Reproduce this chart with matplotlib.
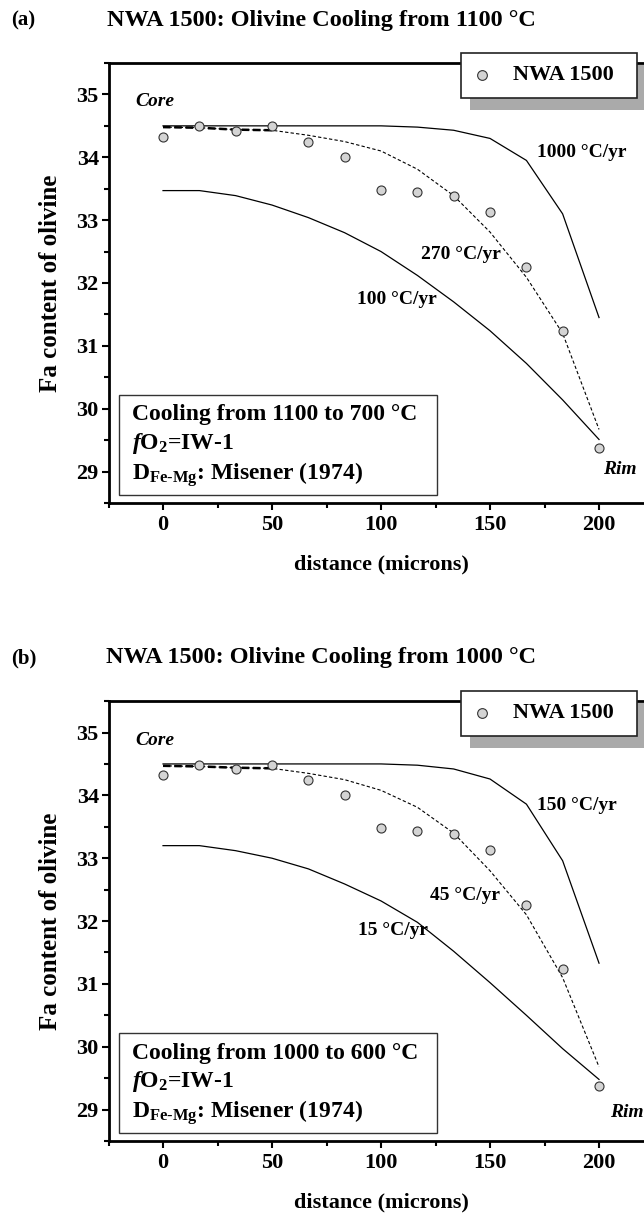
import matplotlib
matplotlib.use('Agg')
import matplotlib.pyplot as plt
from matplotlib.patches import Rectangle
from matplotlib.ticker import MultipleLocator

plt.rcParams['font.family'] = ['Liberation Serif', 'DejaVu Serif']
plt.rcParams['font.weight'] = 'bold'
plt.rcParams['axes.labelweight'] = 'bold'
plt.rcParams['mathtext.fontset'] = 'custom'
plt.rcParams['mathtext.rm'] = 'Liberation Serif:bold'
plt.rcParams['mathtext.it'] = 'Liberation Serif:italic:bold'
plt.rcParams['mathtext.bf'] = 'Liberation Serif:bold'

# measured profile (same in both panels)
distance = [0, 16.7, 33.3, 50, 66.7, 83.3, 100, 116.7, 133.3, 150, 166.7, 183.3, 200]
fa_measured = [34.32, 34.49, 34.42, 34.49, 34.24, 34.01, 33.48, 33.44, 33.39, 33.13, 32.25, 31.24, 29.37]

# (a) cooling from 1100 C
a_fast = [34.5, 34.5, 34.5, 34.5, 34.5, 34.5, 34.5, 34.48, 34.43, 34.30, 33.95, 33.10, 31.45]
a_mid = [34.48, 34.47, 34.44, 34.43, 34.35, 34.25, 34.10, 33.81, 33.39, 32.81, 32.09, 31.20, 29.67]
a_slow = [33.47, 33.47, 33.39, 33.24, 33.04, 32.80, 32.50, 32.12, 31.70, 31.24, 30.72, 30.14, 29.51]
a_rates = ['1000 °C/yr', '270 °C/yr', '100 °C/yr']

# (b) cooling from 1000 C
b_fast = [34.5, 34.5, 34.5, 34.5, 34.5, 34.5, 34.5, 34.48, 34.42, 34.26, 33.86, 32.96, 31.33]
b_mid = [34.47, 34.46, 34.44, 34.43, 34.35, 34.25, 34.08, 33.81, 33.40, 32.80, 32.10, 31.10, 29.68]
b_slow = [33.2, 33.2, 33.12, 33.0, 32.83, 32.59, 32.32, 31.98, 31.52, 31.02, 30.5, 29.97, 29.48]
b_rates = ['150 °C/yr', '45 °C/yr', '15 °C/yr']


def draw_panel(ax, fast, mid, slow, rates, rate_pos, rim_pos, t_range):
    ax.plot(distance, fast, color='black', lw=0.9)
    ax.plot(distance, mid, color='black', lw=0.8, ls=(0, (3, 2)))
    # near the core the dashed curve is drawn heavier in the original
    ax.plot(distance[:4], mid[:4], color='black', lw=1.8, ls=(0, (3, 1.5)))
    ax.plot(distance, slow, color='black', lw=0.9)
    ax.plot(distance, fa_measured, 'o', ms=6.5, mfc='#d4d4d4', mec='#333333', mew=0.8, zorder=4)

    ax.set_xlim(-25, 225)
    ax.set_ylim(28.5, 35.5)
    ax.xaxis.set_major_locator(MultipleLocator(50))
    ax.xaxis.set_minor_locator(MultipleLocator(25))
    ax.yaxis.set_major_locator(MultipleLocator(1))
    ax.yaxis.set_minor_locator(MultipleLocator(0.5))
    ax.tick_params(which='both', direction='out', width=1.5, labelsize=16)
    ax.tick_params(which='major', length=5)
    ax.tick_params(which='minor', length=3.5)
    ax.tick_params(axis='y', pad=2)
    ax.tick_params(axis='x', pad=3.5)
    for s in ax.spines.values():
        s.set_linewidth(2)

    ax.set_xlabel('distance (microns)', fontsize=16, fontweight='bold')
    ax.set_ylabel('Fa content of olivine', fontsize=18, fontweight='bold')
    ax.xaxis.set_label_coords(0.5, -0.116)
    ax.yaxis.set_label_coords(-0.085, 0.5)

    for txt, (x, y) in zip(rates, rate_pos):
        ax.text(x, y, txt, fontsize=14, va='center', ha='left')
    ax.text(-12.8, 34.88, 'Core', fontsize=14, style='italic', va='center')
    ax.text(rim_pos[0], rim_pos[1], 'Rim', fontsize=14, style='italic', va='center', clip_on=False)

    # info box
    ax.add_patch(Rectangle((-20.2, 28.62), 145.9, 1.6, fc='white', ec='#333333', lw=1, zorder=5))
    ax.text(-14.2, 29.90, 'Cooling from %s °C' % t_range, fontsize=17, va='center', zorder=6)
    ax.text(-14.2, 29.45, r'$f$O$_2$=IW-1', fontsize=17, va='center', zorder=6)
    ax.text(-14.2, 28.95, r'D$_{\mathrm{Fe\text{-}Mg}}$: Misener (1974)', fontsize=17, va='center', zorder=6)

    # legend box with shadow
    ax.add_patch(Rectangle((140.8, 34.76), 100, 0.71, fc='#aaaaaa', ec='none', zorder=6, clip_on=False))
    ax.add_patch(Rectangle((136.7, 34.95), 80.7, 0.71, fc='white', ec='#222222', lw=1.2, zorder=7, clip_on=False))
    ax.plot(146.2, 35.31, 'o', ms=7, mfc='#d4d4d4', mec='#333333', mew=0.8, zorder=8, clip_on=False)
    ax.text(160.4, 35.31, 'NWA 1500', fontsize=16, va='center', zorder=8)


fig = plt.figure(figsize=(6.44, 12.14), dpi=100)
ax1 = fig.add_axes([0.1685, 0.5857, 0.8463, 0.3624])
ax2 = fig.add_axes([0.1685, 0.0601, 0.8463, 0.3624])

draw_panel(ax1, a_fast, a_mid, a_slow, a_rates,
           [(171.4, 34.07), (118.3, 32.45), (89.1, 31.74)], (201.8, 29.04), '1100 to 700')
draw_panel(ax2, b_fast, b_mid, b_slow, b_rates,
           [(171.4, 33.84), (122.5, 32.41), (89.5, 31.85)], (205, 28.95), '1000 to 600')

fig.text(0.0365, 0.9835, '(a)', fontsize=15, va='center', ha='center')
fig.text(0.4984, 0.9835, 'NWA 1500: Olivine Cooling from 1100 °C', fontsize=17.5, va='center', ha='center')
fig.text(0.0365, 0.458, '(b)', fontsize=15, va='center', ha='center')
fig.text(0.4984, 0.458, 'NWA 1500: Olivine Cooling from 1000 °C', fontsize=17.5, va='center', ha='center')

fig.savefig('out.png', dpi=100)
